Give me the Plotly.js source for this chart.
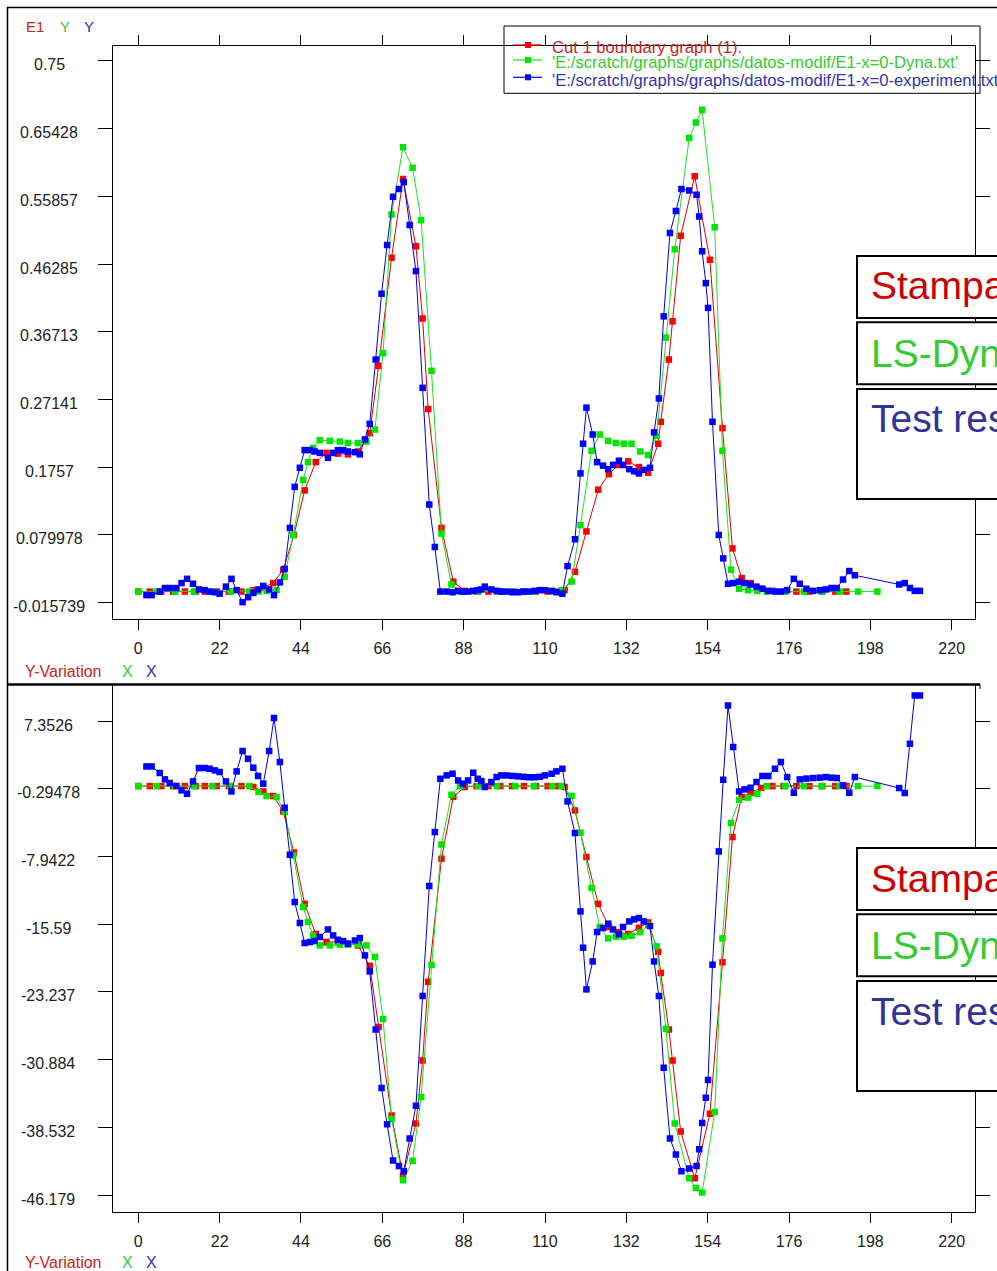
<!DOCTYPE html>
<html>
<head>
<meta charset="utf-8">
<script src="https://cdn.plot.ly/plotly-3.0.1.min.js"></script>
<style>
html,body{margin:0;padding:0;background:#fff;overflow:hidden;}
#chart{width:997px;height:1271px;}
</style>
</head>
<body>
<div id="chart"></div>
<script>
// ---------------- DATA ----------------
const xTickVals = [0, 22, 44, 66, 88, 110, 132, 154, 176, 198, 220];
const xTickText = ['0', '22', '44', '66', '88', '110', '132', '154', '176', '198', '220'];

const topTickVals = [0.75, 0.65428, 0.55857, 0.46285, 0.36713, 0.27141, 0.1757, 0.079978, -0.015739];
const topTickText = ['0.75', '0.65428', '0.55857', '0.46285', '0.36713', '0.27141', '0.1757', '0.079978', '-0.015739'];
const botTickVals = [7.3526, -0.29478, -7.9422, -15.59, -23.237, -30.884, -38.532, -46.179];
const botTickText = ['7.3526', '-0.29478', '-7.9422', '-15.59', '-23.237', '-30.884', '-38.532', '-46.179'];

// Stampack (Cut 1 boundary graph)
const redX = [0, 3.1, 6.2, 9.4, 12.6, 15.5, 18, 21.2, 24.5, 27.9,
  31.1, 33.8, 36.5, 39.2, 42.1, 45, 48, 50.9, 54, 56.7,
  59.4, 62.6, 65, 68.5, 71.6, 75.1, 76.9, 78.4, 82, 85.2,
  88.3, 91.5, 94.7, 97.9, 101.1, 104.3, 107.5, 110.7, 113, 115.3,
  118.1, 121.2, 124.4, 127.3, 129.8, 132.5, 135.4, 137.9, 140.6, 141.3,
  143.5, 144.5, 146.7, 150.5, 154.6, 158, 160.7, 163.2, 165.6, 168.5,
  171.5, 174.5, 178, 181.5, 185, 188.5, 191.5];
const redE1 = [0, 0, 0, 0, 0, 0, 0, 0, 0, 0,
  0.002, 0.006, 0.012, 0.031, 0.080, 0.143, 0.183, 0.196, 0.195, 0.194,
  0.198, 0.224, 0.319, 0.472, 0.583, 0.488, 0.386, 0.258, 0.090, 0.014,
  0.001, 0, 0, 0, 0, 0, 0, 0, 0, 0.002,
  0.028, 0.085, 0.144, 0.166, 0.179, 0.184, 0.176, 0.168, 0.209, 0.240,
  0.328, 0.382, 0.503, 0.587, 0.469, 0.231, 0.061, 0.019, 0.012, 0.004,
  0.001, 0, 0, 0, 0, 0, 0];
const redYV = [0, 0, 0, 0, 0, 0, 0, 0, 0, 0,
  -0.1, -0.6, -1.12, -2.86, -7.5, -13.3, -16.7, -17.6, -17.6, -17.8,
  -18.0, -20.3, -27.2, -37.2, -44.0, -38.1, -31.0, -22.1, -8.2, -1.2,
  -0.1, 0, 0, 0, 0, 0, 0, 0, 0, -0.1,
  -2.75, -8.01, -13.3, -15.9, -16.5, -16.7, -16.0, -15.4, -18.7, -21.1,
  -27.5, -31.0, -39.0, -44.3, -37.0, -19.9, -5.75, -1.23, -0.75, -0.2,
  0, 0, 0, 0, 0, 0, 0];

// LS-Dyna
const greenX = [0, 5, 10, 15, 20, 25, 30, 32.5, 34.7, 37.4,
  39.6, 41.9, 44.6, 45.9, 47.3, 49.1, 51.8, 54.5, 56.7, 59.4,
  61.7, 64, 66.2, 68.5, 71.6, 74.2, 76.5, 79.3, 82, 84.7,
  87, 92, 97, 102, 107, 112, 114.5, 117.2, 119.6, 122.6,
  124.8, 127.1, 129.2, 131.3, 133.4, 135.8, 137.9, 140.2, 142.7, 145.1,
  149, 150.8, 152.5, 155.9, 158, 160.3, 162.5, 164.9, 167.4, 170,
  175, 180, 184.8, 189.7, 194.7, 199.9];
const greenE1 = [0, 0, 0, 0, 0, 0, 0, 0, 0.001, 0.002,
  0.021, 0.080, 0.158, 0.183, 0.203, 0.214, 0.213, 0.212, 0.210, 0.210,
  0.212, 0.229, 0.337, 0.533, 0.628, 0.599, 0.525, 0.312, 0.082, 0.010,
  0, 0, 0, 0, 0, 0, 0.002, 0.014, 0.094, 0.199,
  0.222, 0.213, 0.210, 0.209, 0.209, 0.198, 0.193, 0.220, 0.359, 0.484,
  0.641, 0.663, 0.681, 0.515, 0.199, 0.031, 0.004, 0.002, 0.001, 0,
  0, 0, 0, 0, 0, 0];
const greenYV = [0, 0, 0, 0, 0, 0, 0, -0.67, -1.12, -1.23,
  -2.93, -7.83, -13.66, -15.35, -16.86, -17.99, -17.99, -17.9, -17.9, -17.9,
  -17.99, -19.3, -26.3, -37.6, -44.5, -42.3, -35.1, -20.2, -6.6, -0.97,
  0, 0, 0, 0, 0, 0, 0, -1.1, -5.26, -11.5,
  -15.9, -17.2, -17.0, -17.0, -16.9, -16.5, -15.7, -18.1, -27.4, -38.1,
  -44.3, -45.4, -45.9, -36.8, -17.2, -4.17, -1.54, -1.3, -0.86, 0,
  0, 0, 0, 0, 0, 0];

// Test results (experiment)
const blueX = [2.2, 3.6, 5.8, 7.2, 8.5, 10.3, 11.7, 13.2, 14.8, 16.4, 18, 19.3, 20.7, 22,
  23.7, 25.2, 26.6, 28.2, 29.7, 31.1, 32.4, 33.8, 35.4, 36.7, 38.3,
  39.6, 41, 42.3, 43.7, 45, 46.4, 47.7, 49.1,
  51.3, 52.7, 54, 55.4, 56.7, 58.6, 59.9, 61.3, 62.6,
  64.2, 65.8, 67.3, 68.9, 70.5, 71.8, 73.4, 75.1, 76.9, 78.7, 80.2,
  81.7, 83.4, 85, 86.5, 87.8, 89.2, 90.6, 91.8, 92.8, 93.7, 95.5, 96.9, 98.2, 99.7, 101.2, 102.7, 104.2, 105.7, 107.2, 108.6, 110, 111.8, 113.1, 114.7,
  116.1, 118.1, 119.6, 120.3, 121.2, 122.9, 124.1, 125.7, 127.1, 128.4, 130, 131.1, 132.8, 134.1, 135.4, 136.7, 138.4,
  139.5, 140.8, 142.1, 143.8, 145.4, 146.9, 149, 151, 151.7, 152.5, 153.5, 154.1, 155.3, 157, 158.2,
  159.5, 160.9, 162.5, 164, 165.6, 167.2, 168.8, 170.4, 172.2, 173.8, 175.5, 177.3, 178.9, 180.7, 182.5, 184.3, 186, 187.5, 188.9, 190.6, 192.3, 193.8,
  205.8, 207.3, 208.7, 210, 211.4];
const blueE1 = [-0.005, -0.005, 0.000, 0.005, 0.005, 0.005, 0.012, 0.018, 0.011, 0.003, 0.002, 0.000, -0.001, -0.003,
  0.007, 0.018, 0.002, -0.015, -0.008, -0.002, 0.003, 0.008, 0.003, -0.005, 0.013,
  0.032, 0.090, 0.148, 0.175, 0.200, 0.200, 0.198, 0.196,
  0.189, 0.196, 0.200, 0.200, 0.198, 0.197, 0.194, 0.215, 0.237,
  0.328, 0.421, 0.490, 0.558, 0.569, 0.579, 0.518, 0.453, 0.288, 0.123, 0.063,
  0.000, 0.000, -0.001, 0.001, 0.000, 0.000, 0.001, 0.002, 0.003, 0.007, 0.003, 0.001, 0.000, 0.000, -0.001, -0.001, 0.000, 0.000, 0.001, 0.002, 0.002, 0.001, -0.001, -0.003,
  0.036, 0.074, 0.167, 0.209, 0.260, 0.222, 0.183, 0.178, 0.173, 0.179, 0.185, 0.179, 0.173, 0.170, 0.167, 0.172, 0.175,
  0.225, 0.273, 0.389, 0.507, 0.538, 0.569, 0.567, 0.561, 0.530, 0.481, 0.436, 0.401, 0.240, 0.080, 0.047,
  0.011, 0.012, 0.014, 0.012, 0.010, 0.007, 0.004, 0.001, 0.000, 0.000, 0.002, 0.018, 0.011, 0.004, 0.001, 0.002, 0.003, 0.005, 0.005, 0.017, 0.029, 0.023,
  0.010, 0.012, 0.005, 0.001, 0.001];
const blueYV = [2.22, 2.22, 1.48, 0.76, 0.35, 0.01, -0.48, -0.86, 0.53, 2.04, 2.04, 1.96, 1.77, 1.59,
  0.53, -0.60, 1.66, 3.96, 3.09, 2.08, 1.14, 0.27, 3.96, 7.69, 2.72,
  -2.44, -7.75, -13.09, -15.46, -17.72, -17.61, -17.5, -17.04,
  -16.19, -16.86, -17.35, -17.5, -17.8, -17.43, -17.16, -19.12, -20.93,
  -27.48, -34.1, -38.2, -42.28, -42.9, -43.5, -39.8, -36.1, -23.7, -11.28, -5.19,
  0.83, 1.21, 1.40, 0.64, 0.27, 0.64, 1.51, 0.83, 0.57, -0.10, 0.46, 1.02, 1.21, 1.2, 1.15, 1.1, 1.05, 1.0, 1.0, 1.05, 1.21, 1.40, 1.66, 1.96,
  -1.73, -5.3, -14.15, -18.25, -22.96, -19.8, -16.48, -16.03, -15.54, -16.19, -16.75, -15.91, -15.28, -15.05, -14.9, -15.28, -15.8,
  -19.8, -23.71, -31.8, -39.8, -41.6, -43.5, -43.2, -42.9, -41.0, -38.05, -35.2, -33.2, -20.17, -7.38, 0.72,
  9.11, 4.41, -0.6, -0.37, -0.18, 0.46, 1.14, 1.14, 1.96, 2.72, 1.02, -0.75, 0.76, 0.85, 0.91, 0.95, 1.02, 0.95, 0.91, 0.08, -0.75, 1.02,
  -0.22, -0.78, 4.79, 10.24, 10.24];

const legendNames = ['Cut 1 boundary graph (1).',
  "'E:/scratch/graphs/graphs/datos-modif/E1-x=0-Dyna.txt'",
  "'E:/scratch/graphs/graphs/datos-modif/E1-x=0-experiment.txt'"];
const boxLabels = ['Stampack', 'LS-Dyna', 'Test results'];

// ---------------- STYLE / LAYOUT ----------------
const W = 997, H = 1271;
const px = v => v / W;
const py = v => 1 - v / H;
const FONT = 'Liberation Sans, Arial, sans-serif';
const RED = '#ff0000', REDL = '#dd0000';
const GRN = '#00e600', GRNL = '#22dd22';
const BLU = '#0000ff', BLUL = '#0000dd';

function tr(x, y, mc, lc, ax, name) {
  return {
    type: 'scatter', mode: 'lines+markers', x: x, y: y, name: name,
    xaxis: ax[0], yaxis: ax[1],
    line: {color: lc, width: 1},
    marker: {symbol: 'square', size: 6.5, color: mc, line: {width: 0}},
    showlegend: false, hoverinfo: 'skip'
  };
}

const data = [
  tr(redX, redE1, RED, REDL, ['x', 'y'], legendNames[0]),
  tr(greenX, greenE1, GRN, GRNL, ['x', 'y'], legendNames[1]),
  tr(blueX, blueE1, BLU, BLUL, ['x', 'y'], legendNames[2]),
  tr(redX, redYV, RED, REDL, ['x2', 'y2'], legendNames[0]),
  tr(greenX, greenYV, GRN, GRNL, ['x2', 'y2'], legendNames[1]),
  tr(blueX, blueYV, BLU, BLUL, ['x2', 'y2'], legendNames[2])
];

const tickFont = {family: FONT, size: 16, color: '#222'};
const xBase = {
  range: [-6.84, 226.3], tickvals: xTickVals, ticktext: xTickText,
  ticks: 'outside', ticklen: 10, tickwidth: 1, tickcolor: '#000',
  showline: true, linecolor: '#000', linewidth: 1,
  showgrid: false, zeroline: false, tickfont: tickFont, ticklabelstandoff: 5,
  fixedrange: true
};
const yBase = {
  ticks: 'outside', ticklen: 14, tickwidth: 1, tickcolor: '#000',
  showline: true, linecolor: '#000', linewidth: 1, mirror: 'ticks',
  showgrid: false, zeroline: false, showticklabels: false, fixedrange: true
};

const layout = {
  width: W, height: H,
  margin: {l: 0, r: 0, t: 0, b: 0},
  paper_bgcolor: '#fff', plot_bgcolor: '#fff',
  showlegend: false,
  xaxis: Object.assign({}, xBase, {domain: [px(113), px(975)], anchor: 'y', mirror: 'ticks'}),
  yaxis: Object.assign({}, yBase, {domain: [py(619), py(45.7)], anchor: 'x', range: [-0.03878, 0.7716], tickvals: topTickVals}),
  xaxis2: Object.assign({}, xBase, {domain: [px(113), px(975)], anchor: 'y2', mirror: true}),
  yaxis2: Object.assign({}, yBase, {domain: [py(1211.7), py(685)], anchor: 'x2', range: [-48.065, 11.418], tickvals: botTickVals}),
  shapes: [],
  annotations: []
};

const S = layout.shapes, A = layout.annotations;
function pline(x0, y0, x1, y1, w, c) {
  S.push({type: 'line', xref: 'paper', yref: 'paper', x0: px(x0), y0: py(y0), x1: px(x1), y1: py(y1),
    line: {color: c || '#000', width: w}, layer: 'above'});
}
function prect(x0, y0, x1, y1, w, fill) {
  S.push({type: 'rect', xref: 'paper', yref: 'paper', x0: px(x0), y0: py(y0), x1: px(x1), y1: py(y1),
    line: {color: '#000', width: w}, fillcolor: fill || 'rgba(0,0,0,0)', layer: 'above'});
}
function ptext(text, x, y, color, size, anchor) {
  A.push({xref: 'paper', yref: 'paper', x: px(x), y: py(y), text: text, showarrow: false,
    xanchor: anchor || 'left', yanchor: 'middle', borderpad: 0,
    font: {family: FONT, size: size, color: color}});
}

// Y tick labels (centered column on the left)
topTickVals.forEach((v, i) => A.push({xref: 'paper', yref: 'y', x: px(49), y: v, yshift: -4,
  text: topTickText[i], showarrow: false, xanchor: 'center', yanchor: 'middle', font: tickFont}));
botTickVals.forEach((v, i) => A.push({xref: 'paper', yref: 'y2', x: px(48), y: v, yshift: -4,
  text: botTickText[i], showarrow: false, xanchor: 'center', yanchor: 'middle', font: tickFont}));

// Window frame and separator
pline(7.5, 7, 7.5, 1271, 1.5);
pline(7, 7.5, 997, 7.5, 1.5);
pline(7, 684.5, 980, 684.5, 2.5);
pline(980, 684, 980, 689, 1);

// Corner labels
ptext('E1', 25, 27, '#cc2222', 15);
ptext('Y', 59, 27, '#33cc33', 15);
ptext('Y', 83, 27, '#3333aa', 15);
[[671.5, 16], [1262.5, 16]].forEach(r => {
  const yy = r[0], fs = r[1];
  ptext('Y-Variation', 24, yy, '#cc2222', fs);
  ptext('X', 121, yy, '#33cc33', fs);
  ptext('X', 145, yy, '#3333aa', fs);
});

// Legend (top panel)
prect(504, 26, 980, 93.3, 1);
const legRows = [[45, 47.8, REDL, RED, '#cc2222'], [60, 62.8, GRNL, GRN, '#33cc33'], [77.3, 80.3, BLUL, BLU, '#3333aa']];
legRows.forEach((r, i) => {
  pline(513, r[0], 542, r[0], 1.2, r[2]);
  S.push({type: 'rect', xref: 'paper', yref: 'paper', x0: px(525), x1: px(531), y0: py(r[0] + 3), y1: py(r[0] - 3),
    line: {width: 0}, fillcolor: r[3], layer: 'above'});
  ptext(legendNames[i], 551, r[1], r[4], 16.6);
});

// Label boxes on the right
const boxColors = ['#cc0000', '#33cc33', '#333399'];
const boxSets = [
  [[256, 318, 286], [322.3, 384.3, 353], [389, 499, 419]],
  [[848, 910, 878], [914.3, 976.3, 945], [981, 1091, 1011]]
];
boxSets.forEach(set => set.forEach((b, i) => {
  prect(857, b[0], 1015, b[1], 2, '#fff');
  ptext(boxLabels[i], 870, b[2], boxColors[i], 39);
}));

Plotly.newPlot('chart', data, layout, {staticPlot: true, displayModeBar: false});
</script>
</body>
</html>
